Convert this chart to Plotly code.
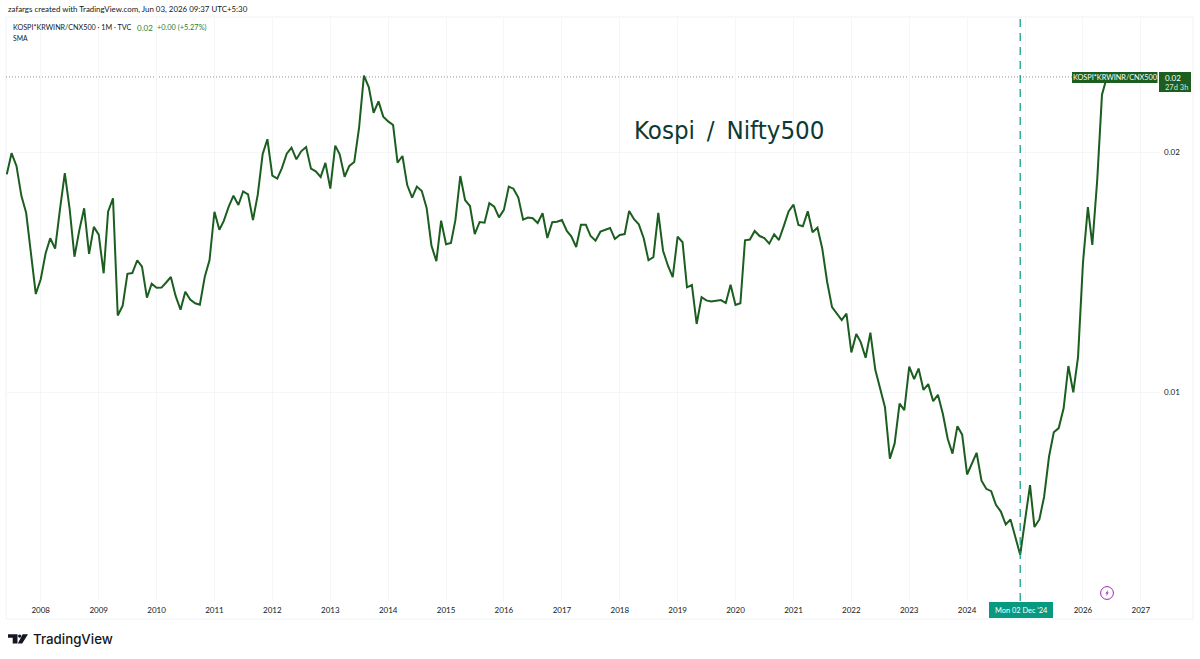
import pandas as pd
import plotly.graph_objects as go

first_month = "2007-06-01"
ratio = [
 0.01875,0.01993,0.01921,0.01762,0.01678,0.01493,0.01327,0.01385,0.01493,0.01559,0.01513,0.01692,
 0.01881,0.01700,0.01478,0.01597,0.01700,0.01490,0.01611,0.01575,0.01409,0.01683,0.01750,0.01247,
 0.01283,0.01407,0.01410,0.01463,0.01436,0.01313,0.01367,0.01351,0.01352,0.01371,0.01394,0.01320,
 0.01268,0.01336,0.01306,0.01292,0.01287,0.01395,0.01464,0.01683,0.01598,0.01639,0.01708,0.01763,
 0.01716,0.01785,0.01770,0.01643,0.01767,0.01987,0.02075,0.01868,0.01852,0.01908,0.01990,0.02025,
 0.01958,0.02004,0.02029,0.01906,0.01891,0.01861,0.01938,0.01799,0.02037,0.01987,0.01862,0.01921,
 0.01943,0.02142,0.02493,0.02411,0.02240,0.02315,0.02215,0.02185,0.02162,0.01939,0.01977,0.01818,
 0.01753,0.01810,0.01787,0.01700,0.01526,0.01459,0.01640,0.01532,0.01538,0.01643,0.01866,0.01741,
 0.01711,0.01578,0.01634,0.01631,0.01725,0.01708,0.01656,0.01692,0.01810,0.01799,0.01753,0.01645,
 0.01655,0.01652,0.01629,0.01676,0.01560,0.01633,0.01635,0.01643,0.01592,0.01568,0.01520,0.01621,
 0.01621,0.01569,0.01548,0.01589,0.01598,0.01606,0.01556,0.01574,0.01578,0.01687,0.01647,0.01623,
 0.01559,0.01463,0.01476,0.01678,0.01504,0.01440,0.01393,0.01566,0.01541,0.01353,0.01362,0.01217,
 0.01315,0.01303,0.01299,0.01301,0.01304,0.01293,0.01363,0.01286,0.01292,0.01550,0.01553,0.01592,
 0.01569,0.01560,0.01535,0.01577,0.01551,0.01616,0.01685,0.01718,0.01620,0.01614,0.01685,0.01586,
 0.01607,0.01515,0.01375,0.01278,0.01256,0.01231,0.01254,0.01121,0.01182,0.01155,0.01104,0.01187,
 0.01066,0.01011,0.00957,0.00825,0.00862,0.00967,0.00949,0.01076,0.01038,0.01070,0.01006,0.01023,
 0.00974,0.00992,0.00939,0.00873,0.00837,0.00906,0.00884,0.00788,0.00815,0.00839,0.00774,0.00756,
 0.00751,0.00722,0.00708,0.00682,0.00692,0.00657,0.00625,0.00691,0.00764,0.00677,0.00692,0.00739,
 0.00830,0.00890,0.00901,0.00954,0.01078,0.00999,0.01107,0.01452,0.01706,0.01529,0.01845,0.02360,
 0.02484,
]
year_ticks = list(range(2008, 2028))
hidden_year = 2025  # covered by the cursor date label
price_ticks = [0.01, 0.02]
price_tick_text = ["0.01", "0.02"]
cursor_date = "2024-12-01"

months = pd.date_range(first_month, periods=len(ratio), freq="MS")

W, H = 1200, 659
L, R, T, B = 6, 1160, 17, 601
def px(x): return (x - L) / (R - L)
def py(y): return (B - y) / (B - T)

GREEN = "#1b5e20"
TEAL = "#089981"
PURPLE = "#9c27b0"
FONT = "Lato"
INK = "#131722"

fig = go.Figure(go.Scatter(x=months, y=ratio, mode="lines",
                           line=dict(color=GREEN, width=2), hoverinfo="skip"))

shapes = [
    dict(type="rect", xref="paper", yref="paper", x0=px(6), x1=px(1193), y0=py(17), y1=py(619),
         line=dict(color="#f0f2f5", width=1), fillcolor="rgba(0,0,0,0)", layer="below"),
    dict(type="line", xref="paper", yref="y", x0=px(6), x1=px(1072), y0=ratio[-1], y1=ratio[-1],
         line=dict(color="#8a8f98", width=1, dash="1px,2px"), layer="below"),
    dict(type="line", xref="x", yref="paper", x0=cursor_date, x1=cursor_date, y0=0, y1=1,
         line=dict(color=TEAL, width=1.2, dash="8px,6px"), layer="above"),
    dict(type="rect", xref="paper", yref="paper", x0=px(1072), x1=px(1157.5), y0=py(72), y1=py(83),
         line=dict(width=0), fillcolor=GREEN, layer="above"),
    dict(type="rect", xref="paper", yref="paper", x0=px(1159), x1=px(1191), y0=py(72), y1=py(92),
         line=dict(width=0), fillcolor=GREEN, layer="above"),
    dict(type="rect", xref="paper", yref="paper", x0=px(989), x1=px(1053), y0=py(602), y1=py(618),
         line=dict(width=0), fillcolor=TEAL, layer="above"),
    dict(type="circle", xref="paper", yref="paper", x0=px(1100.6), x1=px(1113.4), y0=py(586.6), y1=py(599.4),
         line=dict(color=PURPLE, width=1), fillcolor="white", layer="above"),
]

def poly(points, color):
    path = "M " + " L ".join(f"{px(a):.5f},{py(b):.5f}" for a, b in points) + " Z"
    return dict(type="path", xref="paper", yref="paper", path=path,
                line=dict(width=0), fillcolor=color, layer="above")

shapes += [
    poly([(8, 634.3), (17.5, 634.3), (17.5, 643.5), (12.7, 643.5), (12.7, 637.8), (8, 637.8)], "#131722"),
    poly([(22.6, 634.3), (28, 634.3), (22.2, 643.5), (17.8, 643.5)], "#131722"),
    dict(type="circle", xref="paper", yref="paper", x0=px(18.0), x1=px(21.4), y0=py(634.4), y1=py(637.8),
         line=dict(width=0), fillcolor="#131722", layer="above"),
    poly([(1108.4, 589.6), (1105.4, 593.6), (1107, 593.6), (1105.8, 596.6), (1108.8, 592.4), (1107.2, 592.4)], PURPLE),
]

def note(x, y, text, size=8, color=INK, anchor="left", family=FONT, weight=None):
    f = dict(family=family, size=size, color=color)
    if weight:
        f["weight"] = weight
    return dict(xref="paper", yref="paper", x=px(x), y=py(y), text=text, showarrow=False,
                xanchor=anchor, yanchor="middle", borderpad=0, font=f)

annotations = [
    note(7, 9, "zafargs created with TradingView.com, Jun 03, 2026 09:37 UTC+5:30", size=7.9),
    note(12, 27.5, "KOSPI*KRWINR/CNX500 · 1M · TVC", size=7.2),
    note(136, 27.5, "0.02", size=8, color="#2e7d32"),
    note(156, 27.5, "+0.00 (+5.27%)", size=7.4, color="#2e7d32"),
    note(12, 38.5, "SMA", size=6.8),
    note(633, 130, "Kospi\u2009 / \u2009Nifty500", size=25.6, color="#0b3a36", family="DejaVu Sans Condensed"),
    note(1115, 77.5, "KOSPI*KRWINR/CNX500", size=7.3, color="white", anchor="center"),
    note(1164, 77.5, "0.02", size=8, color="white"),
    note(1164, 87, "27d 3h", size=7.5, color="#d7e8d8"),
    note(1021, 610, "Mon 02 Dec '24", size=7.4, color="white", anchor="center"),
    note(32, 639, "TradingView", size=13.3, color="#131722", family="Inter", weight=500),
]

fig.update_layout(
    width=W, height=H, autosize=False,
    margin=dict(l=L, r=W - R, t=T, b=H - B),
    paper_bgcolor="white", plot_bgcolor="white",
    showlegend=False, shapes=shapes, annotations=annotations,
    font=dict(family=FONT, size=8, color=INK),
    xaxis=dict(type="date", range=["2007-05-27", "2027-05-02"],
               tickvals=[f"{y}-01-01" for y in year_ticks],
               ticktext=["" if y == hidden_year else str(y) for y in year_ticks],
               showgrid=True, gridcolor="#f5f6f8", gridwidth=1, zeroline=False, showline=False,
               ticks="", tickangle=0, ticklabelstandoff=3, tickfont=dict(family=FONT, size=8, color=INK)),
    yaxis=dict(type="log", side="right", range=[-2.26215, -1.52964],
               tickvals=price_ticks, ticktext=price_tick_text,
               showgrid=True, gridcolor="#f5f6f8", gridwidth=1, zeroline=False, showline=False,
               ticks="", ticklabelstandoff=3, tickfont=dict(family=FONT, size=8, color=INK)),
)

fig.write_html("out.html", post_script="document.body.style.margin='0';",
               config=dict(displayModeBar=False))
